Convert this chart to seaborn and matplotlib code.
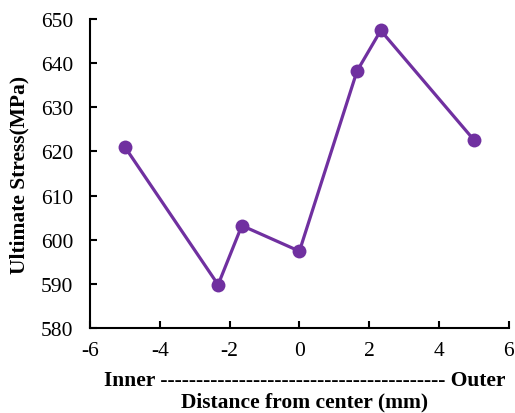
import matplotlib
matplotlib.use("Agg")
import matplotlib.pyplot as plt
import seaborn as sns
import pandas as pd

distance = [-5, -2.33, -1.65, 0, 1.65, 2.33, 5]
stress = [621.0, 589.8, 603.2, 597.4, 638.2, 647.4, 622.6]
x_ticks = [-6, -4, -2, 0, 2, 4, 6]
y_ticks = [580, 590, 600, 610, 620, 630, 640, 650]

sns.set_theme(style="white")
plt.rcParams['font.family'] = ['Liberation Serif', 'DejaVu Serif']
plt.rcParams['text.color'] = 'black'
plt.rcParams['xtick.color'] = 'black'
plt.rcParams['ytick.color'] = 'black'
plt.rcParams['axes.labelcolor'] = 'black'
plt.rcParams['xtick.bottom'] = True
plt.rcParams['ytick.left'] = True

df = pd.DataFrame({"distance": distance, "stress": stress})

fig = plt.figure(figsize=(5.15, 4.14), dpi=100)
ax = fig.add_axes([0.1748, 0.2053, 0.988 - 0.1748, 0.9517 - 0.2053])
color = "#7030A0"
sns.lineplot(data=df, x="distance", y="stress", ax=ax, color=color, linewidth=2.3,
             marker="o", markersize=10, markeredgecolor=color, markeredgewidth=0, sort=False)

fs = 15.5
ax.set_xlim(-6, 6)
ax.set_ylim(580, 650)
ax.set_xticks(x_ticks)
ax.set_yticks(y_ticks)
ax.set_xticklabels([str(t) for t in x_ticks], fontsize=fs)
ax.set_yticklabels([str(t) for t in y_ticks], fontsize=fs)
ax.tick_params(axis="both", direction="in", length=5, width=1.5, color="black")
ax.tick_params(axis="x", pad=9)
ax.tick_params(axis="y", pad=12)
for s in ["top", "right"]:
    ax.spines[s].set_visible(False)
for s in ["left", "bottom"]:
    ax.spines[s].set_color("black")
    ax.spines[s].set_linewidth(1.5)

ax.set_xlabel("")
ax.set_ylabel("Ultimate Stress(MPa)", fontsize=fs, fontweight="bold", labelpad=8)
fig.text(0.592, 0.079, "Inner ---------------------------------------- Outer",
         ha="center", va="center", fontsize=fs, fontweight="bold")
fig.text(0.592, 0.028, "Distance from center (mm)",
         ha="center", va="center", fontsize=fs, fontweight="bold")

fig.savefig("out.png", dpi=100)
